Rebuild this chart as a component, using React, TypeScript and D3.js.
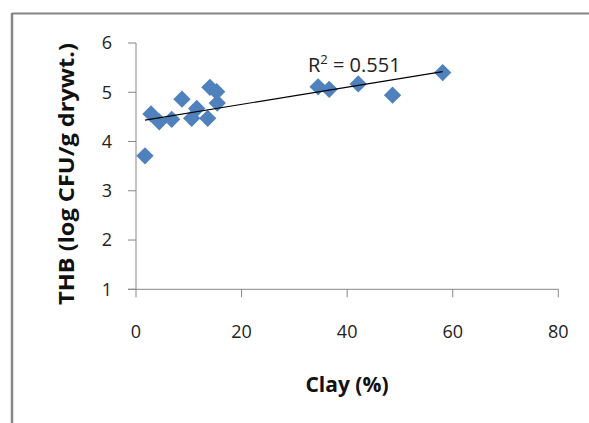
import React from "react";
import * as d3 from "d3";

const clayPct = [1.7, 2.84, 4.41, 6.76, 8.71, 10.55, 11.5, 13.58, 14.0, 15.28, 15.4, 34.5, 36.6, 42.1, 48.6, 58.1];
const thbLog = [3.71, 4.56, 4.40, 4.45, 4.86, 4.47, 4.67, 4.47, 5.10, 5.01, 4.78, 5.11, 5.06, 5.17, 4.94, 5.40];
const xTicks = [0, 20, 40, 60, 80];
const yTicks = [1, 2, 3, 4, 5, 6];
const r2Label = "0.551";
const xTitle = "Clay (%)";
const yTitle = "THB (log CFU/g drywt.)";

const W = 589;
const H = 423;
const FONT = "'Open Sans', Calibri, sans-serif";

export default function App() {
  const x = d3.scaleLinear().domain([0, 80]).range([136, 558.3]);
  const y = d3.scaleLinear().domain([1, 6]).range([289.3, 43]);

  const pts = clayPct.map((c, i) => ({ x: c, y: thbLog[i] }));
  const mx = d3.mean(pts, (p) => p.x) as number;
  const my = d3.mean(pts, (p) => p.y) as number;
  const sxy = d3.sum(pts, (p) => (p.x - mx) * (p.y - my));
  const sxx = d3.sum(pts, (p) => (p.x - mx) ** 2);
  const slope = sxy / sxx;
  const icpt = my - slope * mx;
  const [x0, x1] = d3.extent(clayPct) as [number, number];
  const line = d3.line<number>().x((d) => x(d)).y((d) => y(icpt + slope * d));

  const diamond = d3.symbol().type(d3.symbolSquare).size(150)() as string;
  const axisColor = "#868686";

  return (
    <svg
      width={W}
      height={H}
      style={{ position: "absolute", left: 0, top: 0, background: "#fff" }}
    >
      <rect x={0} y={0} width={W} height={H} fill="#fff" />
      {/* outer frame */}
      <line x1={12} x2={W} y1={13.5} y2={13.5} stroke={axisColor} strokeWidth={2} />
      <line x1={12} x2={12} y1={13} y2={H} stroke={axisColor} strokeWidth={2.5} />

      {/* axes */}
      <line x1={x(0)} x2={x(0)} y1={y(6)} y2={y(1)} stroke={axisColor} strokeWidth={1} />
      <line x1={x(0) - 8} x2={x(80)} y1={y(1)} y2={y(1)} stroke={axisColor} strokeWidth={1} />
      {yTicks.map((t) => (
        <g key={"y" + t}>
          <line x1={x(0) - 8} x2={x(0)} y1={y(t)} y2={y(t)} stroke={axisColor} strokeWidth={1} />
          <text
            x={112}
            y={y(t)}
            dy="0.35em"
            textAnchor="end"
            fontFamily={FONT}
            fontSize={18}
            fill="#222"
          >
            {t}
          </text>
        </g>
      ))}
      {xTicks.map((t) => (
        <g key={"x" + t}>
          <line x1={x(t)} x2={x(t)} y1={y(1)} y2={y(1) + 8} stroke={axisColor} strokeWidth={1} />
          <text
            x={x(t)}
            y={338}
            textAnchor="middle"
            fontFamily={FONT}
            fontSize={18}
            fill="#222"
          >
            {t}
          </text>
        </g>
      ))}

      {/* points */}
      {pts.map((p, i) => (
        <path
          key={i}
          d={diamond}
          transform={`translate(${x(p.x)},${y(p.y)}) rotate(45)`}
          fill="#4F81BD"
        />
      ))}

      {/* trend line */}
      <path d={line([x0, x1]) as string} stroke="#000" strokeWidth={1.2} fill="none" />

      {/* R2 label */}
      <text x={308} y={71.5} fontFamily={FONT} fontSize={20} fill="#222">
        R<tspan dy={-8} fontSize={13}>2</tspan>
        <tspan dy={8}> = {r2Label}</tspan>
      </text>

      {/* titles */}
      <text
        x={347}
        y={392}
        textAnchor="middle"
        fontFamily={FONT}
        fontSize={21}
        fontWeight="bold"
        fill="#111"
      >
        {xTitle}
      </text>
      <text
        transform={`translate(${74},${174}) rotate(-90)`}
        textAnchor="middle"
        fontFamily={FONT}
        fontSize={21}
        fontWeight="bold"
        fill="#111"
        textLength={262}
        lengthAdjust="spacingAndGlyphs"
      >
        {yTitle}
      </text>
    </svg>
  );
}
